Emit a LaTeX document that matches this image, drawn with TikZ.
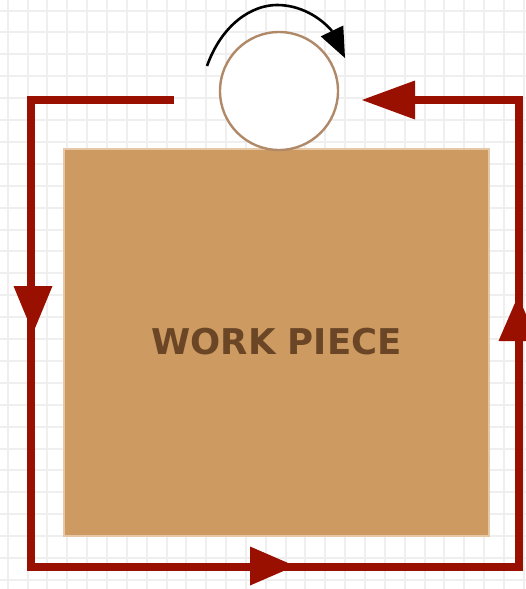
\documentclass[tikz,border=0pt]{standalone}
\usepackage{fontspec}
\setmainfont{DejaVu Sans}
\usetikzlibrary{arrows.meta}
\definecolor{gridc}{HTML}{EFEFEF}
\definecolor{wire}{HTML}{990F00}
\definecolor{piece}{HTML}{CD9A61}
\definecolor{pieceedge}{HTML}{E6C8A6}
\definecolor{ringc}{HTML}{B08A68}
\definecolor{labelc}{HTML}{6A4526}
\tikzset{
  gridline/.style={draw=gridc,line width=2pt},
  wireline/.style={draw=wire,line width=7.5pt,miter limit=10},
  tipflow/.style={draw=wire,line width=7.5pt,-{Triangle[length=#1,width=39pt,line width=0pt,sep=0pt]}},
  workpiece/.style={draw=pieceedge,line width=2pt,fill=piece,inner sep=0pt,minimum width=425pt,minimum height=387pt,
    font=\bfseries\fontsize{35.5}{40}\selectfont,text=labelc},
  wheel/.style={circle,draw=ringc,line width=2.4pt,fill=white,minimum size=118pt,inner sep=0pt},
  spinarc/.style={draw=black,line width=2.6pt},
  spinhead/.style={draw=black,line width=2.6pt,-{Triangle[length=30pt,width=25pt,line width=0pt]}}
}
\begin{document}
\begin{tikzpicture}[x=1pt,y=-1pt]
\useasboundingbox (0,0) rectangle (526,589);
\clip (0,0) rectangle (526,589);
\fill[white] (0,0) rectangle (526,589);
\foreach \i in {0,...,26} \draw[gridline] ({7.7+19.85*\i},0) -- ({7.7+19.85*\i},589);
\foreach \i in {0,...,26} \draw[gridline] (0,{10.5+21.9*\i}) -- (526,{10.5+21.9*\i});
\node[workpiece] (wp) at (276.5,342.5) {\raisebox{1.5pt}{WORK PIECE}};
\node[wheel] (wh) at (279,91) {};
\coordinate (a0) at (174,100);
\coordinate (c1) at (31,100);
\coordinate (c2) at (31,567);
\coordinate (c3) at (519,567);
\coordinate (c4) at (519,100);
\coordinate (t4) at (380,100);
\coordinate (b1) at (33,286);
\coordinate (t1) at (33,333);
\coordinate (b2) at (250,566);
\coordinate (t2) at (295,566);
\coordinate (b3) at (518,341);
\coordinate (t3) at (518,296);
\coordinate (b4) at (415,100);
\coordinate (t5) at (362,100);
\coordinate (s0) at (207,66);
\coordinate (sb) at (332,31);
\coordinate (s1) at (345,58);
\draw[wireline] (a0) -- (c1) -- (c2) -- (c3) -- (c4) -- (t4);
\draw[tipflow=47pt] (b1) -- (t1);
\draw[tipflow=45pt] (b2) -- (t2);
\draw[tipflow=45pt] (b3) -- (t3);
\draw[tipflow=53pt] (b4) -- (t5);
\draw[spinarc] (s0) .. controls (222,24) and (252,5) .. (277,5) .. controls (300,5) and (320,17) .. (sb);
\draw[spinhead] (sb) -- (s1);
\end{tikzpicture}
\end{document}
